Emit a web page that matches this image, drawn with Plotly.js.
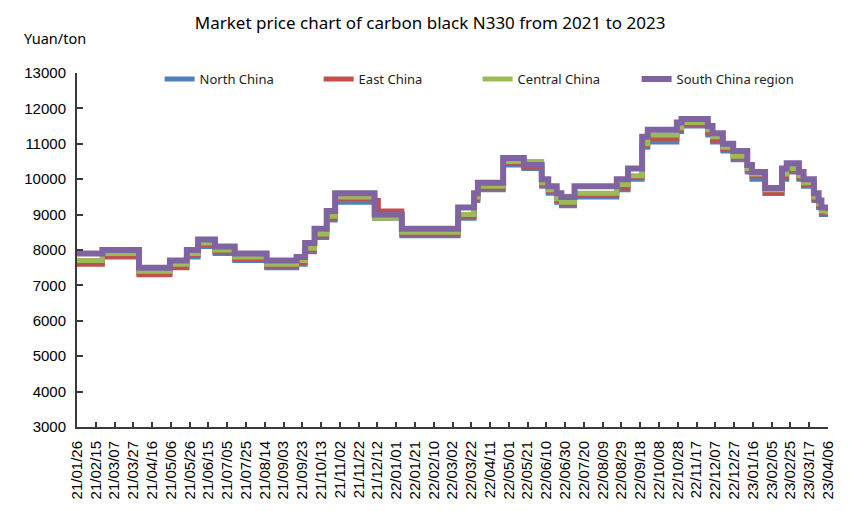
<!DOCTYPE html>
<html>
<head>
<meta charset="utf-8">
<script src="https://cdn.plot.ly/plotly-3.0.1.min.js"></script>
<style>
html,body{margin:0;padding:0;background:#fff;}
#chart{width:850px;height:511px;}
</style>
</head>
<body>
<div id="chart"></div>
<script>
// Dates at which any regional price changes (step chart)
const changeDates = [
  '2021-01-26','2021-02-22','2021-04-02','2021-05-05','2021-05-23','2021-06-04',
  '2021-06-22','2021-07-13','2021-08-16','2021-09-17','2021-09-26','2021-10-06',
  '2021-10-19','2021-10-28','2021-12-09','2021-12-13','2022-01-07','2022-03-08',
  '2022-03-25','2022-03-29','2022-04-25','2022-05-17','2022-06-05','2022-06-12',
  '2022-06-21','2022-06-26','2022-07-10','2022-08-24','2022-09-05','2022-09-20',
  '2022-09-26','2022-10-27','2022-11-01','2022-11-29','2022-12-04','2022-12-15',
  '2022-12-26','2023-01-10','2023-01-15','2023-01-29','2023-02-16','2023-02-21',
  '2023-03-06','2023-03-11','2023-03-22','2023-03-27','2023-03-30','2023-04-06'
];
const northChina = [
  7650,7850,7350,7550,7800,8100,7900,7700,7500,7600,7950,8350,
  8850,9350,8900,8900,8400,8900,9400,9700,10400,10300,9800,9600,
  9350,9250,9500,9700,10000,10900,11050,11350,11500,11250,11050,10800,
  10550,10200,10000,9600,10000,10200,10000,9800,9400,9200,9000,8950
];
const eastChina = [
  7600,7800,7300,7500,7850,8150,7950,7750,7550,7650,8000,8400,
  8900,9450,9400,9100,8450,8950,9450,9750,10450,10350,9850,9650,
  9400,9300,9550,9750,10050,10950,11150,11400,11550,11300,11100,10850,
  10600,10250,10100,9600,10050,10250,10050,9850,9450,9250,9050,8950
];
const centralChina = [
  7700,7900,7400,7600,7900,8200,8000,7800,7600,7700,8050,8450,
  8950,9500,8900,8900,8500,9000,9500,9800,10500,10500,9900,9700,
  9450,9350,9600,9850,10100,11000,11250,11450,11600,11400,11200,10900,
  10650,10300,10150,9700,10150,10300,10100,9900,9500,9300,9100,9000
];
const southChina = [
  7900,8000,7500,7700,8000,8300,8100,7900,7700,7800,8200,8600,
  9100,9600,9000,9000,8600,9200,9600,9900,10600,10400,10000,9800,
  9600,9500,9800,10000,10300,11200,11400,11600,11700,11500,11300,11000,
  10800,10400,10200,9750,10300,10450,10200,10000,9600,9400,9200,9100
];
const seriesNames = ['North China','East China','Central China','South China region'];
const seriesColors = ['#4F81BD','#C0504D','#9BBB59','#8064A2'];
const seriesValues = [northChina, eastChina, centralChina, southChina];

const traces = seriesValues.map((vals, i) => ({
  type: 'scatter',
  mode: 'lines',
  name: seriesNames[i],
  x: changeDates,
  y: vals,
  line: {shape: 'hv', color: seriesColors[i], width: i === 3 ? 6 : 5},
  hoverinfo: 'x+y+name'
}));

const axisFont = {family: '"Liberation Sans", Arial, sans-serif', size: 15, color: '#000'};

const layout = {
  width: 850, height: 511,
  paper_bgcolor: '#fff', plot_bgcolor: '#fff',
  margin: {l: 77, r: 22, t: 73, b: 84},
  title: {
    text: 'Market price chart of carbon black N330 from 2021 to 2023',
    font: {family: '"Noto Sans", "Open Sans", sans-serif', size: 17, color: '#000'},
    xref: 'container', x: 0.506, xanchor: 'center',
    yref: 'container', y: 0.955, yanchor: 'middle'
  },
  showlegend: true,
  legend: {
    orientation: 'h',
    x: 0.110, xanchor: 'left',
    y: 0.983, yanchor: 'middle',
    bgcolor: 'rgba(0,0,0,0)',
    font: {family: '"Noto Sans", "Open Sans", sans-serif', size: 13, color: '#222'},
    entrywidth: 114, entrywidthmode: 'pixels',
    traceorder: 'normal'
  },
  xaxis: {
    type: 'date',
    range: ['2021-01-26', '2023-04-06'],
    tick0: '2021-01-26',
    dtick: 20 * 86400000,
    tickformat: '%y/%m/%d',
    tickangle: -90,
    ticks: 'inside', ticklen: 5, tickwidth: 2, tickcolor: '#3a3a3a',
    showline: true, linecolor: '#3a3a3a', linewidth: 2,
    showgrid: false, zeroline: false,
    tickfont: axisFont,
    ticklabelstandoff: 6
  },
  yaxis: {
    range: [3000, 13000],
    dtick: 1000,
    tickformat: 'd',
    ticks: 'inside', ticklen: 6, tickwidth: 2, tickcolor: '#3a3a3a',
    showline: true, linecolor: '#3a3a3a', linewidth: 2,
    showgrid: false, zeroline: false,
    tickfont: axisFont,
    ticklabelstandoff: 6
  },
  annotations: [{
    text: 'Yuan/ton',
    xref: 'paper', yref: 'paper',
    x: -0.0732, xanchor: 'left',
    y: 1.099, yanchor: 'middle',
    showarrow: false,
    font: {family: '"Noto Sans", "Open Sans", sans-serif', size: 14.5, color: '#000'}
  }]
};

Plotly.newPlot('chart', traces, layout, {displayModeBar: false, staticPlot: true});
</script>
</body>
</html>
